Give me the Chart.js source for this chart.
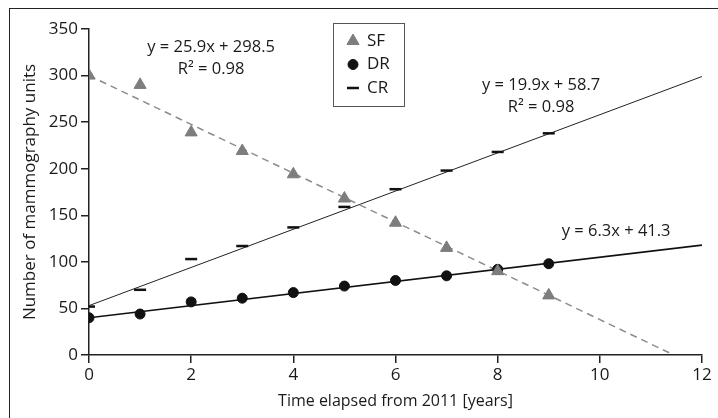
<!DOCTYPE html>
<html>
<head>
<meta charset="utf-8">
<script src="https://cdn.jsdelivr.net/npm/chart.js@4/dist/chart.umd.min.js"></script>
<style>
  html, body { margin: 0; padding: 0; background: #fff; }
  #wrap { position: relative; width: 718px; height: 418px; }
  #frame { position: absolute; left: 9px; top: 8px; right: -2px; bottom: -2px; border-left: 1.5px solid #222; border-top: 1.5px solid #222; pointer-events: none; }
</style>
</head>
<body>
<div id="wrap">
  <canvas id="chart" width="718" height="418"></canvas>
  <div id="frame"></div>
</div>
<script>
// Data
const years = [0, 1, 2, 3, 4, 5, 6, 7, 8, 9];
const sfValues = [300, 290, 239, 219, 194, 168, 142, 115, 90, 64];
const drValues = [40, 44, 57, 61, 67, 74, 80, 85, 92, 98];
const crValues = [52, 70, 103, 117, 137, 159, 178, 198, 218, 238];

// Trend line end points (x, y)
const sfTrendX = [0, 11.45];
const sfTrendY = [300, 0];
const drTrendX = [0, 12];
const drTrendY = [40, 118];
const crTrendX = [0, 12];
const crTrendY = [53, 299];

const xTicks = [0, 2, 4, 6, 8, 10, 12];
const yTicks = [0, 50, 100, 150, 200, 250, 300, 350];

// Equation labels, placed in data coordinates
const equations = [
    { lines: ['y = 25.9x + 298.5', 'R\u00B2 = 0.98'], x: 2.39, y: 330 },
    { lines: ['y = 19.9x + 58.7', 'R\u00B2 = 0.98'], x: 8.85, y: 290 },
    { lines: ['y = 6.3x + 41.3'], x: 10.32, y: 132.5 }
];

const FONT = '"Open Sans", "Liberation Sans", sans-serif';
const SF_GRAY = '#7d7d7d';
const TEXT = '#1a1a1a';

function pts(xs, ys) {
    return xs.map((x, i) => ({ x: x, y: ys[i] }));
}

// Equation text
const equationPlugin = {
    id: 'equations',
    afterDatasetsDraw(chart) {
        const ctx = chart.ctx;
        const xs = chart.scales.x;
        const ys = chart.scales.y;
        ctx.save();
        ctx.fillStyle = TEXT;
        ctx.font = '16.5px ' + FONT;
        ctx.textAlign = 'center';
        ctx.textBaseline = 'middle';
        equations.forEach(eq => {
            const px = xs.getPixelForValue(eq.x);
            const py = ys.getPixelForValue(eq.y);
            eq.lines.forEach((line, i) => {
                ctx.fillText(line, px, py + i * 22);
            });
        });
        ctx.restore();
    }
};

// Boxed legend inside the plot
const boxLegendPlugin = {
    id: 'boxLegend',
    afterDraw(chart) {
        const ctx = chart.ctx;
        const left = 333, top = 23, width = 71, height = 83;
        ctx.save();
        ctx.fillStyle = '#fff';
        ctx.fillRect(left, top, width, height);
        ctx.strokeStyle = '#555';
        ctx.lineWidth = 1;
        ctx.strokeRect(left + 0.5, top + 0.5, width, height);
        const items = chart.data.datasets.filter(d => d.showInLegend);
        items.forEach((d, i) => {
            const cy = top + 18 + i * 23.5;
            ctx.fillStyle = d.backgroundColor;
            ctx.strokeStyle = d.borderColor;
            ctx.lineWidth = d.borderWidth;
            Chart.helpers.drawPoint(ctx, {
                pointStyle: d.pointStyle,
                radius: d.pointRadius,
                borderWidth: d.borderWidth,
                rotation: 0
            }, 353, cy);
            ctx.fillStyle = TEXT;
            ctx.font = '17px ' + FONT;
            ctx.textAlign = 'left';
            ctx.textBaseline = 'middle';
            ctx.fillText(d.label, 367, cy);
        });
        ctx.restore();
    }
};

const ctx = document.getElementById('chart');

new Chart(ctx, {
    type: 'scatter',
    data: {
        datasets: [
            {
                label: 'SF',
                showInLegend: true,
                order: 1,
                data: pts(years, sfValues),
                pointStyle: 'triangle',
                pointRadius: 7,
                backgroundColor: SF_GRAY,
                borderColor: SF_GRAY,
                borderWidth: 1
            },
            {
                label: 'DR',
                showInLegend: true,
                order: 2,
                data: pts(years, drValues),
                pointStyle: 'circle',
                pointRadius: 5,
                backgroundColor: '#111',
                borderColor: '#111',
                borderWidth: 1
            },
            {
                label: 'CR',
                showInLegend: true,
                order: 3,
                data: pts(years, crValues),
                pointStyle: 'line',
                pointRadius: 6,
                backgroundColor: '#111',
                borderColor: '#111',
                borderWidth: 2.5
            },
            {
                label: 'SF trend',
                order: 4,
                data: pts(sfTrendX, sfTrendY),
                showLine: true,
                borderColor: '#8c8c8c',
                borderWidth: 1.5,
                borderDash: [7, 5],
                pointRadius: 0,
                fill: false
            },
            {
                label: 'DR trend',
                order: 5,
                data: pts(drTrendX, drTrendY),
                showLine: true,
                borderColor: '#111',
                borderWidth: 1.6,
                pointRadius: 0,
                fill: false
            },
            {
                label: 'CR trend',
                order: 6,
                data: pts(crTrendX, crTrendY),
                showLine: true,
                borderColor: '#222',
                borderWidth: 1,
                pointRadius: 0,
                fill: false
            }
        ]
    },
    options: {
        responsive: false,
        animation: false,
        layout: {
            padding: { left: 0, top: 29, right: 16, bottom: 0 }
        },
        plugins: {
            legend: { display: false },
            tooltip: { enabled: false }
        },
        scales: {
            x: {
                type: 'linear',
                min: 0,
                max: 12,
                afterFit: function(scale) { scale.height = 63; },
                afterBuildTicks: function(scale) {
                    scale.ticks = xTicks.map(v => ({ value: v }));
                },
                grid: {
                    display: true,
                    drawOnChartArea: false,
                    drawTicks: true,
                    tickLength: 8,
                    color: '#222',
                    lineWidth: 1.5
                },
                border: { display: true, color: '#222', width: 1.5 },
                ticks: {
                    color: TEXT,
                    font: { family: FONT, size: 17 },
                    padding: 2,
                    maxRotation: 0
                },
                title: {
                    display: true,
                    text: 'Time elapsed from 2011 [years]',
                    color: TEXT,
                    font: { family: FONT, size: 16 },
                    padding: { top: 0, bottom: 7 }
                }
            },
            y: {
                type: 'linear',
                min: 0,
                max: 350,
                afterFit: function(scale) { scale.width = 89; },
                afterBuildTicks: function(scale) {
                    scale.ticks = yTicks.map(v => ({ value: v }));
                },
                grid: {
                    display: true,
                    drawOnChartArea: false,
                    drawTicks: true,
                    tickLength: 8,
                    color: '#222',
                    lineWidth: 1.5
                },
                border: { display: true, color: '#222', width: 1.5 },
                ticks: {
                    color: TEXT,
                    font: { family: FONT, size: 17 },
                    padding: 3
                },
                title: {
                    display: true,
                    text: 'Number of mammography units',
                    color: TEXT,
                    font: { family: FONT, size: 17 },
                    padding: { top: 20, bottom: 0 }
                }
            }
        }
    },
    plugins: [equationPlugin, boxLegendPlugin]
});
</script>
</body>
</html>
